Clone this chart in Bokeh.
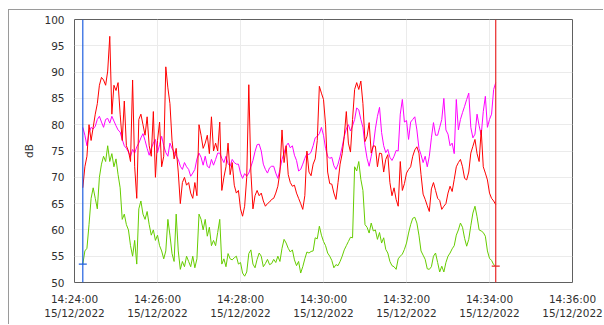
import pandas as pd
from bokeh.plotting import figure
from bokeh.models import Span, FixedTicker, DatetimeTickFormatter, Range1d
from bokeh.embed import file_html
from bokeh.resources import INLINE

# ---- data (one sample every 3 s) ----
start_time = "2022-12-15 14:24:12"
step_seconds = 3
axis_start = "2022-12-15 14:24:00"
axis_end = "2022-12-15 14:36:00"

red_values = [
    68, 72, 74, 80, 77, 79.5, 82, 84, 87.5, 89, 88.5, 87.5, 90.2, 96.8, 82, 87.5, 86.5, 88, 82, 77,
    84.5, 76, 75, 73, 88.5, 72, 66, 81, 82, 80, 78, 81.5, 76, 74, 82.5, 70, 77, 80.5, 72, 74,
    91, 87, 84, 77, 73.5, 75.5, 71, 65, 69, 70, 68.5, 69, 67, 66, 69, 66.5, 80, 78, 75.5, 76.5,
    78, 74.5, 81.5, 75, 76.5, 75, 80.5, 67.5, 70, 72, 76.5, 70.5, 72.8, 68.5, 67, 67.5, 64, 62.6, 64.5, 70,
    87.6, 71, 64, 66.5, 67.5, 66.5, 67, 65.5, 64.5, 65, 65.3, 65.8, 66, 67, 68.3, 71, 79, 72.8, 76, 70.5,
    69, 68.3, 68.5, 67, 66, 65, 63.9, 66.5, 75, 71, 70.3, 72.5, 73.5, 77, 87.3, 86, 84.8, 80, 71, 68.8,
    68.7, 67, 65.8, 69, 72.5, 74.5, 77.8, 82.5, 76.5, 74.8, 81, 86.7, 88, 86.7, 88.3, 84, 76.8, 77.8, 80.4, 74.6,
    76, 75.9, 72, 74.6, 74.5, 71, 73.4, 74.3, 69, 66.5, 68, 65.8, 64.5, 73, 67.5, 68.8, 70.8, 71.5, 72, 74,
    75.2, 75.8, 74.6, 70.5, 66.8, 65.8, 64.6, 63.5, 67.8, 69, 67.5, 66, 65.6, 63.9, 64.5, 65, 67, 68.3, 67.3, 69.6,
    72, 72.8, 73.4, 72, 69.8, 69.5, 71, 74.6, 75.9, 77.2, 74.5, 73, 79, 72, 70.8, 69.5, 67, 66, 65.5, 64.8,
]

magenta_values = [
    79.5, 78, 76, 78.5, 79.5, 79.2, 79.7, 81, 81.6, 80.5, 79.5, 81, 81.2, 80.3, 81.6, 80.7, 79.8, 79, 78.6, 77.2,
    76, 75.5, 74.8, 74, 75.3, 74.6, 75.8, 76.5, 77.5, 78.3, 77, 75.5, 74.2, 75.5, 76.5, 77.2, 74.7, 76.2, 77.8, 76,
    74.7, 74, 76.5, 75.5, 74.8, 74, 73.4, 72.1, 71.5, 72.8, 72, 71.5, 70.2, 70.8, 71.5, 73.5, 74.6, 73.8, 72.3, 74,
    72.1, 71.8, 73.4, 72.3, 73.4, 74.6, 74.6, 73.6, 72.8, 74, 72.6, 72.1, 73.4, 72.8, 72.5, 72.5, 70.8, 69.8, 70.7, 70.2,
    70.8, 72, 73.2, 74.9, 76.2, 76.3, 75, 72.5, 71.5, 70.8, 71.8, 72.1, 72.1, 70.8, 69.8, 71.5, 73.4, 74.6, 76, 76.5,
    75.6, 76, 74.2, 73.2, 71.2, 71.5, 72.5, 73.6, 74.5, 74.3, 74.8, 76, 77.5, 77.8, 78.3, 79.5, 78, 75.5, 74, 73.6,
    73.8, 72.2, 71.5, 72.5, 74, 75.8, 77.8, 79.2, 80, 78.8, 79.8, 81, 83.2, 82.8, 81, 79.5, 76, 73.6, 72.1, 74,
    76, 79.2, 81.6, 83.3, 78.5, 76, 74.7, 75.3, 73.8, 73.2, 74, 75.1, 75, 82, 84.8, 80.5, 80.8, 77.2, 80.5, 81,
    81.5, 79, 75.5, 74.3, 72.8, 74, 72, 74, 77.5, 80.4, 78, 78, 79.5, 81, 85, 79, 78.2, 76, 76.5, 74.5,
    84.8, 79, 81, 82.3, 83.5, 84.8, 86, 79.5, 77.5, 78.2, 82, 79.8, 78, 82.5, 85.4, 79.5, 81, 82, 86.7, 88,
]

green_values = [
    53.5, 56, 56.5, 61, 66, 68, 66, 64, 70, 72.5, 74, 73, 76, 73, 74.5, 72, 73.5, 70.5, 68, 62,
    63, 61, 60, 57, 55, 58, 53.5, 64, 65.5, 63, 62, 63.5, 61, 59, 60, 58, 59, 57, 56, 54.5,
    56, 62, 59, 55.5, 54, 63, 56, 52.5, 54, 53, 55, 54, 53, 55, 52.8, 54.5, 63, 62, 60, 62,
    58.8, 60.5, 57, 58, 57, 59.5, 62, 53.5, 54.5, 53, 55.5, 54.5, 54.3, 54.7, 55, 53.5, 53.8, 51.8, 51.2, 52,
    55.5, 56.2, 53.5, 52.8, 54.4, 55.6, 55, 53, 53.6, 54.4, 53.4, 53.6, 54.4, 53.8, 55, 54, 56.5, 58.2, 57.5, 56.5,
    55.8, 56.2, 54.3, 53.2, 54, 51.8, 53, 54.5, 55.8, 55.6, 55.9, 56, 58.5, 58.3, 60.7, 59, 57.8, 57, 55.6, 55,
    54.2, 52.8, 53.4, 53.2, 54, 55, 56.2, 57, 57.8, 58.6, 58.5, 72, 71.2, 73, 69.6, 67.5, 61, 60.5, 59.4, 61.3,
    59.8, 60, 58.2, 59.5, 57.5, 58.5, 56.3, 55.6, 54, 53.2, 53, 52.5, 54.5, 55, 55.4, 56.3, 57.5, 59.4, 61, 62.2,
    62.4, 61.3, 59, 56, 55.2, 54.4, 52.6, 52.5, 53, 55, 55.6, 53.8, 52, 53.1, 52, 53.8, 55, 55.6, 56.4, 57,
    59, 60, 61.3, 60.5, 58.4, 56.9, 58.2, 60.8, 63.2, 64.5, 62.5, 60, 59.8, 59.5, 58.8, 56, 54.6, 54.2, 53.4, 53.1,
]

y_ticks = [50, 55, 60, 65, 70, 75, 80, 85, 90, 95, 100]
x_tick_times = ["2022-12-15 14:24:00", "2022-12-15 14:26:00", "2022-12-15 14:28:00",
                "2022-12-15 14:30:00", "2022-12-15 14:32:00", "2022-12-15 14:34:00",
                "2022-12-15 14:36:00"]
y_label = "dB"

# ---- build ----
times = pd.date_range(start=start_time, periods=len(red_values), freq=f"{step_seconds}s")

def ms(ts):
    return pd.Timestamp(ts).value // 10**6

FONT = "DejaVu Sans"
TXT = "#303030"

p = figure(width=595, height=315, x_axis_type="datetime",
           output_backend="svg", toolbar_location=None,
           x_range=Range1d(ms(axis_start), ms(axis_end)),
           y_range=Range1d(y_ticks[0], y_ticks[-1]),
           min_border_left=65, min_border_top=9, min_border_right=32, min_border_bottom=43)
p.styles = {"margin-left": "8px", "margin-top": "9px",
            "border-left": "1px solid #9a9a9a", "border-top": "1px solid #9a9a9a"}

p.outline_line_color = "#606060"
p.outline_line_width = 1
p.background_fill_color = "white"
p.border_fill_color = "white"

p.xgrid.grid_line_color = "#ebebeb"
p.ygrid.grid_line_color = "#ebebeb"

p.xaxis.ticker = FixedTicker(ticks=[ms(t) for t in x_tick_times])
fmt = "%H:%M:%S\n%d/%m/%Y"
p.xaxis.formatter = DatetimeTickFormatter(
    microseconds=fmt, milliseconds=fmt, seconds=fmt, minsec=fmt, minutes=fmt,
    hourmin=fmt, hours=fmt, days=fmt, months=fmt, years=fmt)
p.yaxis.ticker = FixedTicker(ticks=y_ticks)
p.yaxis.axis_label = y_label

for ax in (p.xaxis[0], p.yaxis[0]):
    ax.axis_line_color = None
    ax.major_tick_line_color = None
    ax.minor_tick_line_color = None
    ax.major_tick_out = 0
    ax.major_tick_in = 0
    ax.minor_tick_out = 0
    ax.major_label_text_font = FONT
    ax.major_label_text_font_size = "10.5px"
    ax.major_label_text_color = TXT
    ax.axis_label_text_font = FONT
    ax.axis_label_text_font_size = "10.5px"
    ax.axis_label_text_font_style = "normal"
    ax.axis_label_text_color = TXT
p.yaxis.major_label_standoff = 10
p.yaxis.axis_label_standoff = 6
p.xaxis.major_label_standoff = 10

p.line(times, green_values, line_color="#66cc00", line_width=1)
p.line(times, magenta_values, line_color="#ff00ff", line_width=1)
p.line(times, red_values, line_color="#ff0000", line_width=1)

# cursors at first and last sample
p.add_layout(Span(location=ms(times[0]), dimension="height", line_color="#2060e0", line_width=1.2))
p.add_layout(Span(location=ms(times[-1]), dimension="height", line_color="#e82828", line_width=1.2))
p.scatter([times[0]], [green_values[0]], marker="dash", size=8, line_color="#2060e0", line_width=1.2)
p.scatter([times[-1]], [green_values[-1]], marker="dash", size=8, line_color="#e82828", line_width=1.2)

open("out.html", "w").write(file_html(p, INLINE))
